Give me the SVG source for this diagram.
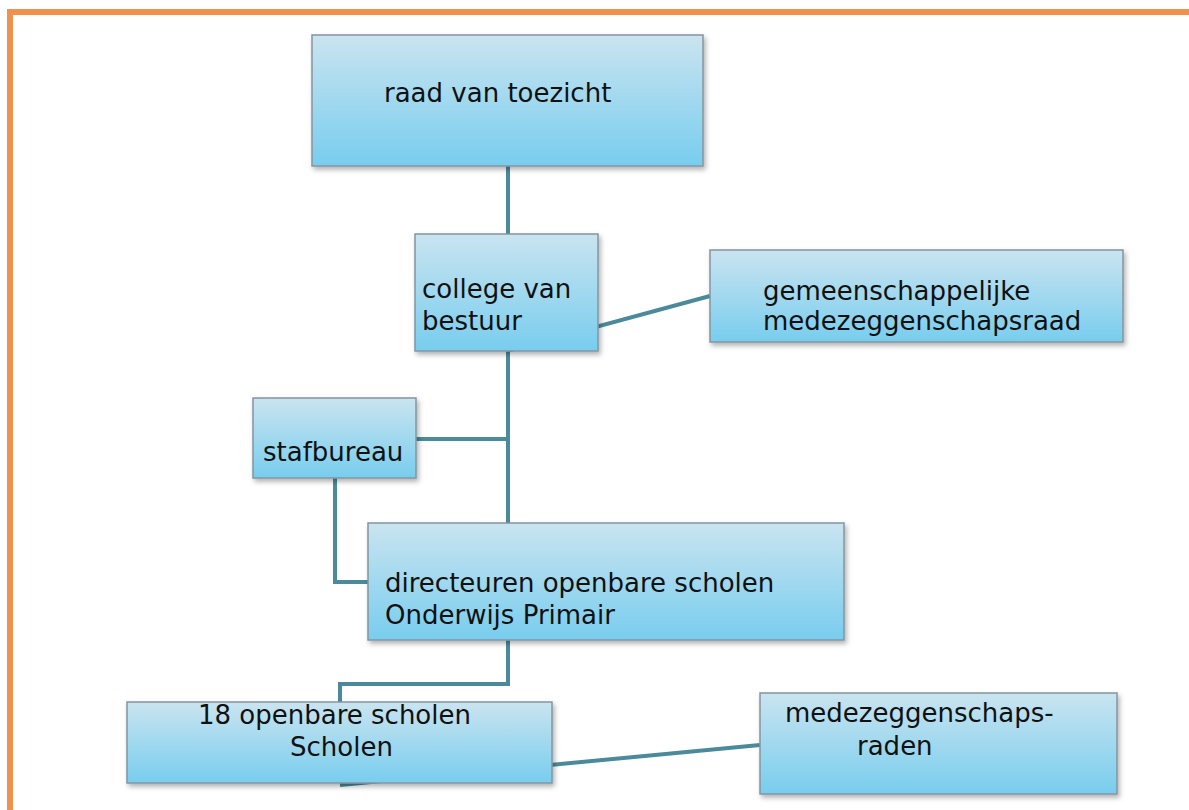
<svg xmlns="http://www.w3.org/2000/svg" width="1189" height="810" viewBox="0 0 1189 810">
  <defs>
    <linearGradient id="boxGrad" x1="0" y1="0" x2="0" y2="1">
      <stop offset="0" stop-color="#cae4f0"/>
      <stop offset="1" stop-color="#78cdee"/>
    </linearGradient>
    <filter id="shadow" x="-10%" y="-10%" width="125%" height="140%">
      <feDropShadow dx="2" dy="3" stdDeviation="2.5" flood-color="#000" flood-opacity="0.3"/>
    </filter>
    <style>
      .box { fill: url(#boxGrad); stroke: #8495a0; stroke-width: 1.5; filter: url(#shadow); }
      .lbl { font-family: "DejaVu Sans", "Liberation Sans", sans-serif; font-size: 26px; fill: #111; }
      .con { fill: none; stroke: #4b8a9a; stroke-width: 4; stroke-linejoin: miter; }
      .frame { stroke: #f2914b; stroke-width: 6; }
    </style>
  </defs>

  <rect x="0" y="0" width="1189" height="810" fill="#ffffff"/>

  <g id="frame">
    <line class="frame" x1="7" y1="12" x2="1189" y2="12"/>
    <line class="frame" x1="10" y1="9" x2="10" y2="810"/>
  </g>

  <g id="connectors">
    <path class="con" d="M508 166 V234"/>
    <path class="con" d="M507 351 L710 296"/>
    <path class="con" d="M508 351 V523"/>
    <path class="con" d="M416 439 H508"/>
    <path class="con" d="M335 478 V582 H368"/>
    <path class="con" d="M508 640 V684 H340 V702"/>
    <path class="con" d="M340 785 L760 745"/>
  </g>

  <g id="raad-van-toezicht">
    <rect class="box" x="312" y="35" width="391" height="131"/>
    <text class="lbl" x="384" y="102">raad van toezicht</text>
  </g>

  <g id="college-van-bestuur">
    <rect class="box" x="415" y="234" width="183" height="117"/>
    <text class="lbl" x="422" y="298">college van</text>
    <text class="lbl" x="422" y="330">bestuur</text>
  </g>

  <g id="gemeenschappelijke-mr">
    <rect class="box" x="710" y="250" width="413" height="92"/>
    <text class="lbl" x="763" y="300">gemeenschappelijke</text>
    <text class="lbl" x="763" y="330">medezeggenschapsraad</text>
  </g>

  <g id="stafbureau">
    <rect class="box" x="253" y="398" width="163" height="80"/>
    <text class="lbl" x="263" y="461">stafbureau</text>
  </g>

  <g id="directeuren">
    <rect class="box" x="368" y="523" width="476" height="117"/>
    <text class="lbl" x="385" y="592">directeuren openbare scholen</text>
    <text class="lbl" x="385" y="624">Onderwijs Primair</text>
  </g>

  <g id="openbare-scholen">
    <rect class="box" x="127" y="702" width="425" height="81"/>
    <text class="lbl" x="198" y="724">18 openbare scholen</text>
    <text class="lbl" x="290" y="756">Scholen</text>
  </g>

  <g id="medezeggenschapsraden">
    <rect class="box" x="760" y="693" width="357" height="101"/>
    <text class="lbl" x="785" y="722">medezeggenschaps-</text>
    <text class="lbl" x="857" y="755">raden</text>
  </g>
</svg>
